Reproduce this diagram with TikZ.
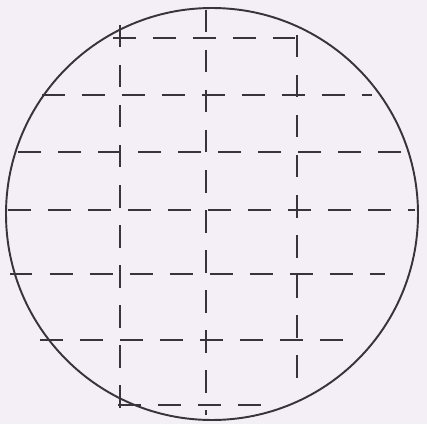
\documentclass[tikz,border=0pt]{standalone}
\usepackage{tikz}
\usepackage{xcolor}

\definecolor{paper}{RGB}{244,239,246}
\definecolor{pencil}{RGB}{55,52,58}

\begin{document}
\begin{tikzpicture}[gridline/.style = {pencil, line width = 1.1pt, dash pattern = on 0.45cm off 0.35cm}]
        \fill[paper] (0,0) rectangle (8.54,8.48);
        \useasboundingbox (0,0) rectangle (8.54,8.48);

        \begin{scope}
            \draw[pencil, line width = 1.1pt] (4.24,4.20) circle (4.12);
        \end{scope}

        \begin{scope}
            \draw[gridline] (2.26,7.72) -- (5.90,7.72);
            \draw[gridline] (0.84,6.58) -- (7.44,6.58);
            \draw[gridline] (0.36,5.44) -- (8.10,5.44);
            \draw[gridline] (0.16,4.28) -- (8.30,4.28);
            \draw[gridline] (0.20,3.00) -- (7.70,3.00);
            \draw[gridline] (0.80,1.68) -- (7.00,1.68);
            \draw[gridline] (2.36,0.38) -- (5.30,0.38);
        \end{scope}

        \begin{scope}
            \draw[gridline] (2.40,7.98) -- (2.40,0.32);
            \draw[gridline] (4.12,8.28) -- (4.12,0.18);
            \draw[gridline] (5.94,7.78) -- (5.94,0.68);
        \end{scope}
    \end{tikzpicture}
\end{document}
